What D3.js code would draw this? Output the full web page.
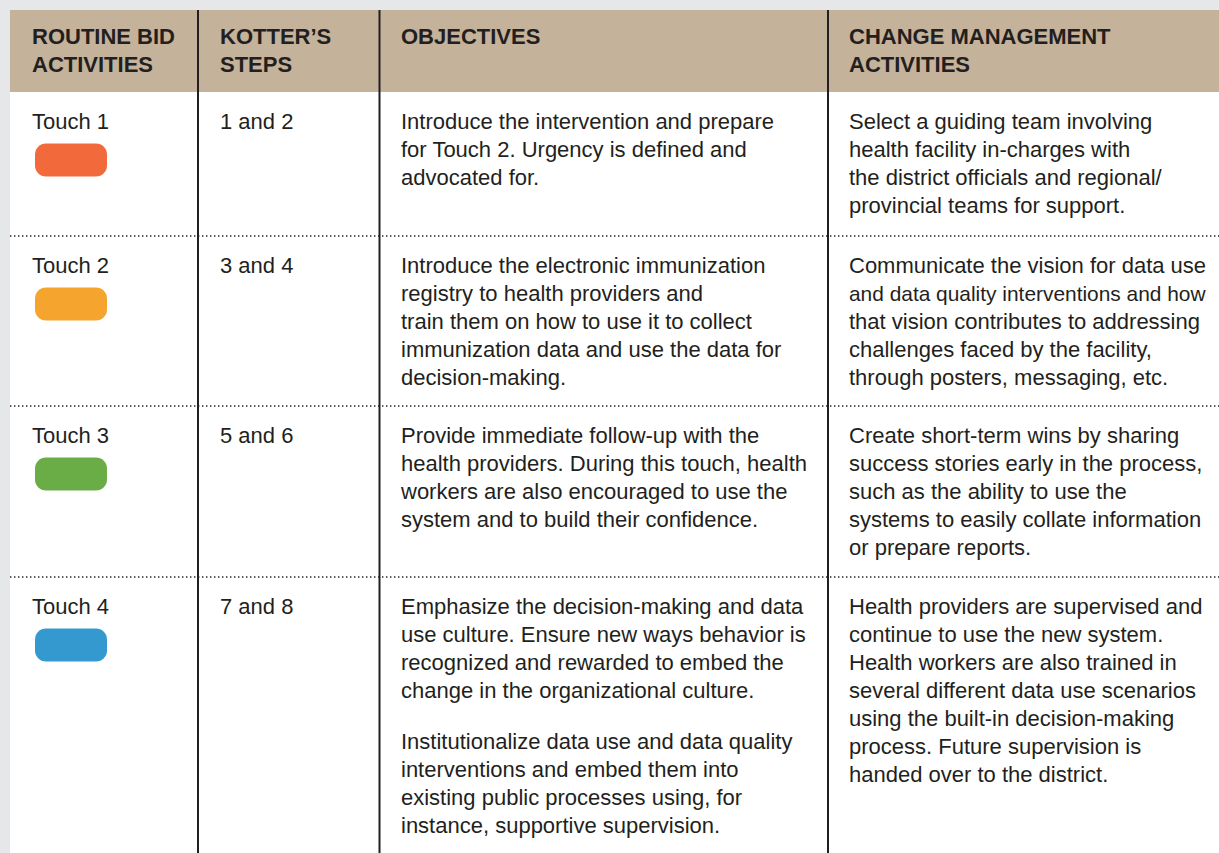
<!DOCTYPE html>
<html><head><meta charset="utf-8">
<script src="https://cdn.jsdelivr.net/npm/d3@7"></script>
<style>html,body{margin:0;padding:0;background:#e6e7e8;overflow:hidden}svg{display:block}</style>
</head><body>
<svg id="c" width="1219" height="853"></svg>
<script>
const headers = [["ROUTINE BID","ACTIVITIES"],["KOTTER’S","STEPS"],["OBJECTIVES"],["CHANGE MANAGEMENT","ACTIVITIES"]];
const touches = ["Touch 1","Touch 2","Touch 3","Touch 4"];
const touchColors = ["#f26a3b","#f5a52d","#6aac45","#3399cf"];
const steps = ["1 and 2","3 and 4","5 and 6","7 and 8"];
const objectives = [
  [["Introduce the intervention and prepare","for Touch 2. Urgency is defined and","advocated for."]],
  [["Introduce the electronic immunization","registry to health providers and","train them on how to use it to collect","immunization data and use the data for","decision-making."]],
  [["Provide immediate follow-up with the","health providers. During this touch, health","workers are also encouraged to use the","system and to build their confidence."]],
  [["Emphasize the decision-making and data","use culture. Ensure new ways behavior is","recognized and rewarded to embed the","change in the organizational culture."],
   ["Institutionalize data use and data quality","interventions and embed them into","existing public processes using, for","instance, supportive supervision."]]
];
const activities = [
  ["Select a guiding team involving","health facility in-charges with","the district officials and regional/","provincial teams for support."],
  ["Communicate the vision for data use","and data quality interventions and how","that vision contributes to addressing","challenges faced by the facility,","through posters, messaging, etc."],
  ["Create short-term wins by sharing","success stories early in the process,","such as the ability to use the","systems to easily collate information","or prepare reports."],
  ["Health providers are supervised and","continue to use the new system.","Health workers are also trained in","several different data use scenarios","using the built-in decision-making","process. Future supervision is","handed over to the district."]
];
const rowTops = [92, 236, 406, 577];

(function(){
const W = 1219, H = 853;
const x0 = 10, y0 = 10, headerBottom = 92;
const colLines = [198, 379.5, 828];
const textX = [32, 220, 401, 849];
const colRight = [190, 372, 820, 1207];
const lh = 28, fontSize = 22, ink = "#231f20";
const font = "'Liberation Sans', Arial, Helvetica, sans-serif";

const svg = d3.select("#c");
svg.append("rect").attr("x",0).attr("y",0).attr("width",W).attr("height",H).attr("fill","#e6e7e8");
svg.append("rect").attr("x",x0).attr("y",y0).attr("width",W-x0).attr("height",H-y0).attr("fill","#ffffff");
svg.append("rect").attr("x",x0).attr("y",y0).attr("width",W-x0).attr("height",headerBottom-y0).attr("fill","#c4b29a");

function fit(sel, maxW){
  sel.each(function(){
    const len = this.getComputedTextLength();
    if (len > maxW) d3.select(this).attr("font-size", Math.floor(fontSize*maxW/len*10)/10);
  });
}

const hg = svg.append("g");
headers.forEach((lines,i)=>{
  hg.selectAll(null).data(lines).join("text")
    .attr("x",textX[i]).attr("y",(d,j)=>44+j*lh)
    .attr("font-family",font).attr("font-weight","bold").attr("font-size",fontSize).attr("fill",ink)
    .text(d=>d)
    .call(fit, colRight[i]-textX[i]);
});

svg.selectAll("line.sep").data(rowTops.slice(1)).join("line")
  .attr("class","sep").attr("x1",x0).attr("x2",W).attr("y1",d=>d).attr("y2",d=>d)
  .attr("stroke",ink).attr("stroke-width",1.6).attr("stroke-dasharray","1.4,2.6");

svg.selectAll("line.col").data(colLines).join("line")
  .attr("class","col").attr("x1",d=>d).attr("x2",d=>d).attr("y1",y0).attr("y2",H)
  .attr("stroke",ink).attr("stroke-width",2);

function addLines(g, lines, col, yb){
  g.selectAll(null).data(lines).join("text")
    .attr("x",textX[col]).attr("y",(d,j)=>yb+j*lh)
    .attr("font-family",font).attr("font-size",fontSize).attr("fill",ink)
    .text(d=>d)
    .call(fit, colRight[col]-textX[col]);
}

rowTops.forEach((rt,i)=>{
  const g = svg.append("g");
  const b = rt + 37;
  addLines(g,[touches[i]],0,b);
  g.append("rect").attr("x",35).attr("y",b+14.5).attr("width",72).attr("height",33)
    .attr("rx",11).attr("fill",touchColors[i]);
  addLines(g,[steps[i]],1,b);
  let y = b;
  objectives[i].forEach(par=>{
    addLines(g,par,2,y);
    y += par.length*lh + 23;
  });
  addLines(g,activities[i],3,b);
});
})();
</script>
</body></html>
